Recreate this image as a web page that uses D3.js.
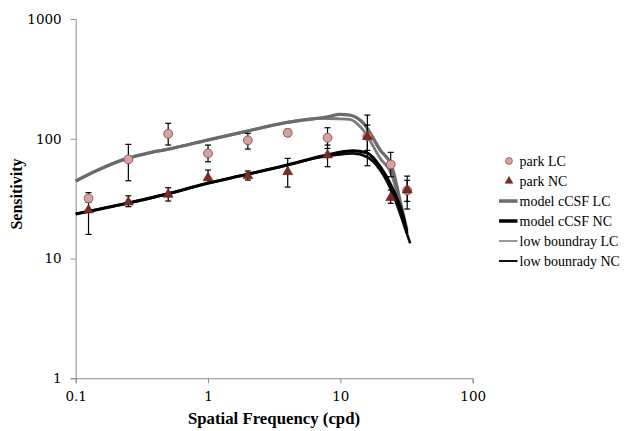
<!DOCTYPE html>
<html>
<head>
<meta charset="utf-8">
<script src="https://cdn.jsdelivr.net/npm/d3@7"></script>
<style>
  html, body { margin: 0; padding: 0; background: #fff; }
  svg { display: block; }
</style>
</head>
<body>
<svg id="chart" width="639" height="431"></svg>
<script>
// ---- data ----
const freqs = [0.125, 0.25, 0.5, 1, 2, 4, 8, 16, 24, 32];

const parkLC     = [31.8, 67.3, 110, 75.5, 97, 112, 102, 105, 61, 37];
const parkLCLow  = [29.5, 44.6, 88.6, 64.3, 82, 105, 83, 80, 48.2, 30];
const parkLCHigh = [35.5, 89.8, 134.5, 88.6, 111, 120, 123.6, 157.7, 77, 45];

const parkNC     = [25.4, 29.5, 34.3, 47.2, 49.1, 53, 73.1, 104, 32.2, 37.3];
const parkNCLow  = [15.9, 27.1, 30.2, 42.4, 45.2, 39.5, 58.4, 59.5, 28.9, 25.9];
const parkNCHigh = [32, 33.4, 39, 54.8, 53.8, 68.6, 88.6, 130, 37.3, 48.8];

const modelLCx = [0.1, 0.153, 0.245, 0.352, 0.49, 0.99, 1.98, 3.97, 7.97, 9.96, 11.8, 14.9, 20, 24.5, 28.2, 31.8];
const modelLCy = [44.4, 55.9, 68.5, 76, 81.5, 97.5, 116, 137, 152.6, 160, 157.7, 135.3, 80.5, 58.4, 30.8, 17.3];

const lowLCx = [0.1, 0.153, 0.245, 0.352, 0.49, 0.99, 1.98, 3.97, 7.0, 9.5, 11.8, 14.9, 20, 24.5, 28.2, 31.5];
const lowLCy = [44.4, 55.9, 68.5, 76, 81.5, 97.5, 116, 137, 148, 147, 145, 118, 68.6, 49.8, 28, 17.5];

const modelNCx = [0.1, 0.245, 0.49, 0.99, 1.98, 3.97, 7.0, 9.5, 12.4, 15.8, 20, 25.1, 29.9, 31.9];
const modelNCy = [23.5, 28.9, 34.5, 42.5, 50.5, 60.4, 71, 76.5, 79.4, 76.4, 58.4, 37.3, 22.3, 16.3];

const lowNCx = [0.1, 0.245, 0.49, 0.99, 1.98, 3.97, 7.0, 9.5, 12.4, 15.8, 20, 25.1, 29.9, 33.7];
const lowNCy = [23.5, 28.9, 34.5, 42.5, 50.5, 60.4, 70, 73.5, 75.5, 70.8, 54.8, 33.9, 19.8, 13.4];

const xTicks = [0.1, 1, 10, 100];
const yTicks = [1, 10, 100, 1000];

const legendItems = [
  { label: "park LC", type: "circle" },
  { label: "park NC", type: "triangle" },
  { label: "model cCSF LC", type: "line", color: "#6b6b6b", w: 3.5 },
  { label: "model cCSF NC", type: "line", color: "#000000", w: 3.5 },
  { label: "low boundray LC", type: "line", color: "#9a9a9a", w: 2 },
  { label: "low bounrady NC", type: "line", color: "#111111", w: 2 }
];

// ---- chart ----
const svg = d3.select("#chart");
const x = d3.scaleLog().domain([0.1, 100]).range([75.7, 472.7]);
const y = d3.scaleLog().domain([1, 1000]).range([378.3, 19]);

const serif = "'Liberation Serif', 'Times New Roman', serif";
const tickFont = "'DejaVu Serif', serif";

// axes
const xAxis = svg.append("g")
  .attr("transform", `translate(0,${y(1)})`)
  .call(d3.axisBottom(x).tickValues(xTicks).tickFormat(d3.format("")).tickSize(5).tickPadding(8));
const yAxis = svg.append("g")
  .attr("transform", `translate(${x(0.1)},0)`)
  .call(d3.axisLeft(y).tickValues(yTicks).tickFormat(d3.format("")).tickSize(5).tickPadding(9));
[xAxis, yAxis].forEach(g => {
  g.select(".domain").attr("stroke", "#8c8c8c");
  g.selectAll(".tick line").attr("stroke", "#8c8c8c");
  g.selectAll(".tick text").attr("fill", "#000").style("font-family", tickFont).style("font-size", "13.5px");
});

// axis titles
svg.append("text")
  .attr("x", 274).attr("y", 424)
  .attr("text-anchor", "middle")
  .style("font-family", serif).style("font-weight", "bold").style("font-size", "16.8px")
  .text("Spatial Frequency (cpd)");
svg.append("text")
  .attr("transform", "translate(22,194) rotate(-90)")
  .attr("text-anchor", "middle")
  .style("font-family", serif).style("font-weight", "bold").style("font-size", "16px")
  .text("Sensitivity");

// curves
const line = d3.line().x(d => x(d[0])).y(d => y(d[1])).curve(d3.curveMonotoneX);
const curves = [
  { xs: lowLCx, ys: lowLCy, color: "#7a7a7a", w: 2.8 },
  { xs: modelLCx, ys: modelLCy, color: "#6b6b6b", w: 3.3 },
  { xs: lowNCx, ys: lowNCy, color: "#0a0a0a", w: 2.6 },
  { xs: modelNCx, ys: modelNCy, color: "#000000", w: 3.1 }
];
curves.forEach(c => {
  svg.append("path")
    .datum(c.xs.map((v, i) => [v, c.ys[i]]))
    .attr("fill", "none")
    .attr("stroke", c.color)
    .attr("stroke-width", c.w)
    .attr("stroke-linecap", "butt")
    .attr("d", line);
});

// error bars
function errorBars(vals, lo, hi) {
  const g = svg.append("g").attr("stroke", "#000").attr("stroke-width", 1.2);
  freqs.forEach((f, i) => {
    const cx = x(f);
    g.append("line").attr("x1", cx).attr("x2", cx).attr("y1", y(lo[i])).attr("y2", y(hi[i]));
    g.append("line").attr("x1", cx - 3).attr("x2", cx + 3).attr("y1", y(lo[i])).attr("y2", y(lo[i]));
    g.append("line").attr("x1", cx - 3).attr("x2", cx + 3).attr("y1", y(hi[i])).attr("y2", y(hi[i]));
  });
}
errorBars(parkLC, parkLCLow, parkLCHigh);
errorBars(parkNC, parkNCLow, parkNCHigh);

// markers
const circleFill = "#d7a3a1", circleStroke = "#8e5753";
const triFill = "#7a2b25", triStroke = "#5a1d18";
svg.append("g").selectAll("circle").data(freqs).join("circle")
  .attr("cx", d => x(d)).attr("cy", (d, i) => y(parkLC[i]))
  .attr("r", 4.4)
  .attr("fill", circleFill).attr("stroke", circleStroke).attr("stroke-width", 1);
const tri = d3.symbol().type(d3.symbolTriangle).size(42);
svg.append("g").selectAll("path").data(freqs).join("path")
  .attr("transform", (d, i) => `translate(${x(d)},${y(parkNC[i])})`)
  .attr("d", tri)
  .attr("fill", triFill).attr("stroke", triStroke).attr("stroke-width", 0.6);

// legend
const lg = svg.append("g");
legendItems.forEach((it, i) => {
  const cy = 161 + i * 20;
  if (it.type === "circle") {
    lg.append("circle").attr("cx", 509).attr("cy", cy).attr("r", 3.4)
      .attr("fill", circleFill).attr("stroke", circleStroke).attr("stroke-width", 0.8);
  } else if (it.type === "triangle") {
    lg.append("path").attr("transform", `translate(509,${cy})`)
      .attr("d", d3.symbol().type(d3.symbolTriangle).size(26))
      .attr("fill", triFill).attr("stroke", triStroke).attr("stroke-width", 0.5);
  } else {
    lg.append("line").attr("x1", 499).attr("x2", 517.5).attr("y1", cy).attr("y2", cy)
      .attr("stroke", it.color).attr("stroke-width", it.w);
  }
  lg.append("text").attr("x", 519.5).attr("y", cy + 4.5)
    .style("font-family", serif).style("font-size", "14px")
    .text(it.label);
});
</script>
</body>
</html>
